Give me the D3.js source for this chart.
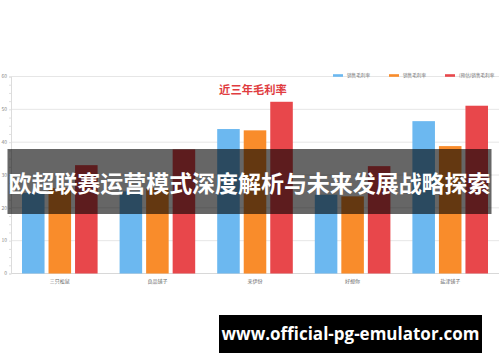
<!DOCTYPE html>
<html>
<head>
<meta charset="utf-8">
<script src="https://cdn.jsdelivr.net/npm/d3@7/dist/d3.min.js"></script>
<style>
  html, body { margin: 0; padding: 0; background: #fff; }
  svg { display: block; font-family: "Noto Sans CJK SC", "Noto Sans", sans-serif; }
</style>
</head>
<body>
<svg id="chart" width="500" height="362"></svg>
<script>
// data
var categories = ['三只松鼠', '良品铺子', '来伊份', '好想你', '盐津铺子'];
var seriesNames = ['销售毛利率', '销售毛利率', '(预估)销售毛利率'];
var seriesColors = ['#6cb8f0', '#f98c2b', '#e8474b'];
var blueValues = [24.5, 25, 44, 24, 46.4];
var orangeValues = [26, 26, 43.6, 23.5, 38.8];
var redValues = [33, 37.8, 52.3, 32.7, 51.1];
var yTicks = [0, 10, 20, 30, 40, 50, 60];

var svg = d3.select('#chart');
// plot area (note: "top" is reserved on window, so use own names)
var plotLeft = 11, plotRight = 499, plotTop = 76.5, plotBottom = 273.5;

var values = [blueValues, orangeValues, redValues];

var x0 = d3.scaleBand().domain(categories).range([plotLeft, plotRight]);
var x1 = d3.scaleBand().domain(d3.range(3)).range([11, x0.bandwidth() - 11]).paddingInner(0.15);
var y = d3.scaleLinear().domain([0, 60]).range([plotBottom, plotTop]);

// grid lines
svg.append('g')
  .selectAll('line')
  .data(yTicks)
  .enter().append('line')
  .attr('x1', plotLeft).attr('x2', plotRight)
  .attr('y1', function (d) { return y(d); })
  .attr('y2', function (d) { return y(d); })
  .style('stroke', function (d) { return d === 0 ? '#d8d8d8' : '#e6e6e6'; })
  .style('stroke-width', 1);

// y axis with minor ticks
var yAxis = svg.append('g').attr('transform', 'translate(' + plotLeft + ',0)')
  .call(d3.axisLeft(y).tickValues(d3.range(0, 61, 2.5)).tickSize(2).tickFormat(''));
yAxis.select('.domain').style('stroke', '#dcdcdc');
yAxis.selectAll('.tick line').style('stroke', '#e0e0e0');

svg.append('g')
  .selectAll('text')
  .data(yTicks)
  .enter().append('text')
  .attr('x', 7)
  .attr('y', function (d) { return y(d) + 1.8; })
  .attr('text-anchor', 'end')
  .style('font-size', '5px')
  .style('fill', '#888')
  .text(function (d) { return d; });

// bars
var groups = svg.append('g')
  .selectAll('g')
  .data(categories)
  .enter().append('g')
  .attr('transform', function (d) { return 'translate(' + x0(d) + ',0)'; });

groups.selectAll('rect')
  .data(function (d, i) { return values.map(function (s, k) { return { k: k, v: s[i] }; }); })
  .enter().append('rect')
  .attr('x', function (d) { return x1(d.k); })
  .attr('width', x1.bandwidth())
  .attr('y', function (d) { return y(d.v); })
  .attr('height', function (d) { return plotBottom - y(d.v); })
  .style('fill', function (d) { return seriesColors[d.k]; });

// category labels
svg.append('g')
  .selectAll('text')
  .data(categories)
  .enter().append('text')
  .attr('x', function (d) { return x0(d) + x0.bandwidth() / 2; })
  .attr('y', 283)
  .attr('text-anchor', 'middle')
  .style('font-size', '5px')
  .style('fill', '#666')
  .text(function (d) { return d; });

// title
svg.append('text')
  .attr('x', 253).attr('y', 94)
  .attr('text-anchor', 'middle')
  .style('font-size', '11.3px')
  .style('font-weight', 'bold')
  .style('fill', '#e03c3f')
  .text('近三年毛利率');

// legend
var legendX = [333, 389, 445];
var legend = svg.append('g')
  .selectAll('g')
  .data(seriesNames)
  .enter().append('g')
  .attr('transform', function (d, i) { return 'translate(' + legendX[i] + ',75.5)'; });
legend.append('rect')
  .attr('x', 0).attr('y', -1.3).attr('width', 10).attr('height', 2.6)
  .style('fill', function (d, i) { return seriesColors[i]; });
legend.append('text')
  .attr('x', 14).attr('y', 1.7)
  .style('font-size', '4.6px')
  .style('fill', '#777')
  .text(function (d) { return d; });

// banner overlay
svg.append('rect')
  .attr('x', 7.5).attr('y', 149).attr('width', 484).attr('height', 65)
  .style('fill', '#000').style('opacity', 0.6);
svg.append('text')
  .attr('x', 249.5).attr('y', 192)
  .attr('text-anchor', 'middle')
  .style('font-size', '23px')
  .style('font-weight', 'bold')
  .style('fill', '#fff')
  .attr('textLength', 482)
  .text('欧超联赛运营模式深度解析与未来发展战略探索');

// watermark
svg.append('rect')
  .attr('x', 219).attr('y', 315).attr('width', 263).attr('height', 38)
  .style('fill', '#000');
svg.append('text')
  .attr('x', 350.5).attr('y', 340)
  .attr('text-anchor', 'middle')
  .style('font-size', '17px')
  .style('font-weight', 'bold')
  .style('font-family', '"Open Sans", "DejaVu Sans", sans-serif')
  .style('fill', '#fff')
  .text('www.official-pg-emulator.com');
</script>
</body>
</html>
